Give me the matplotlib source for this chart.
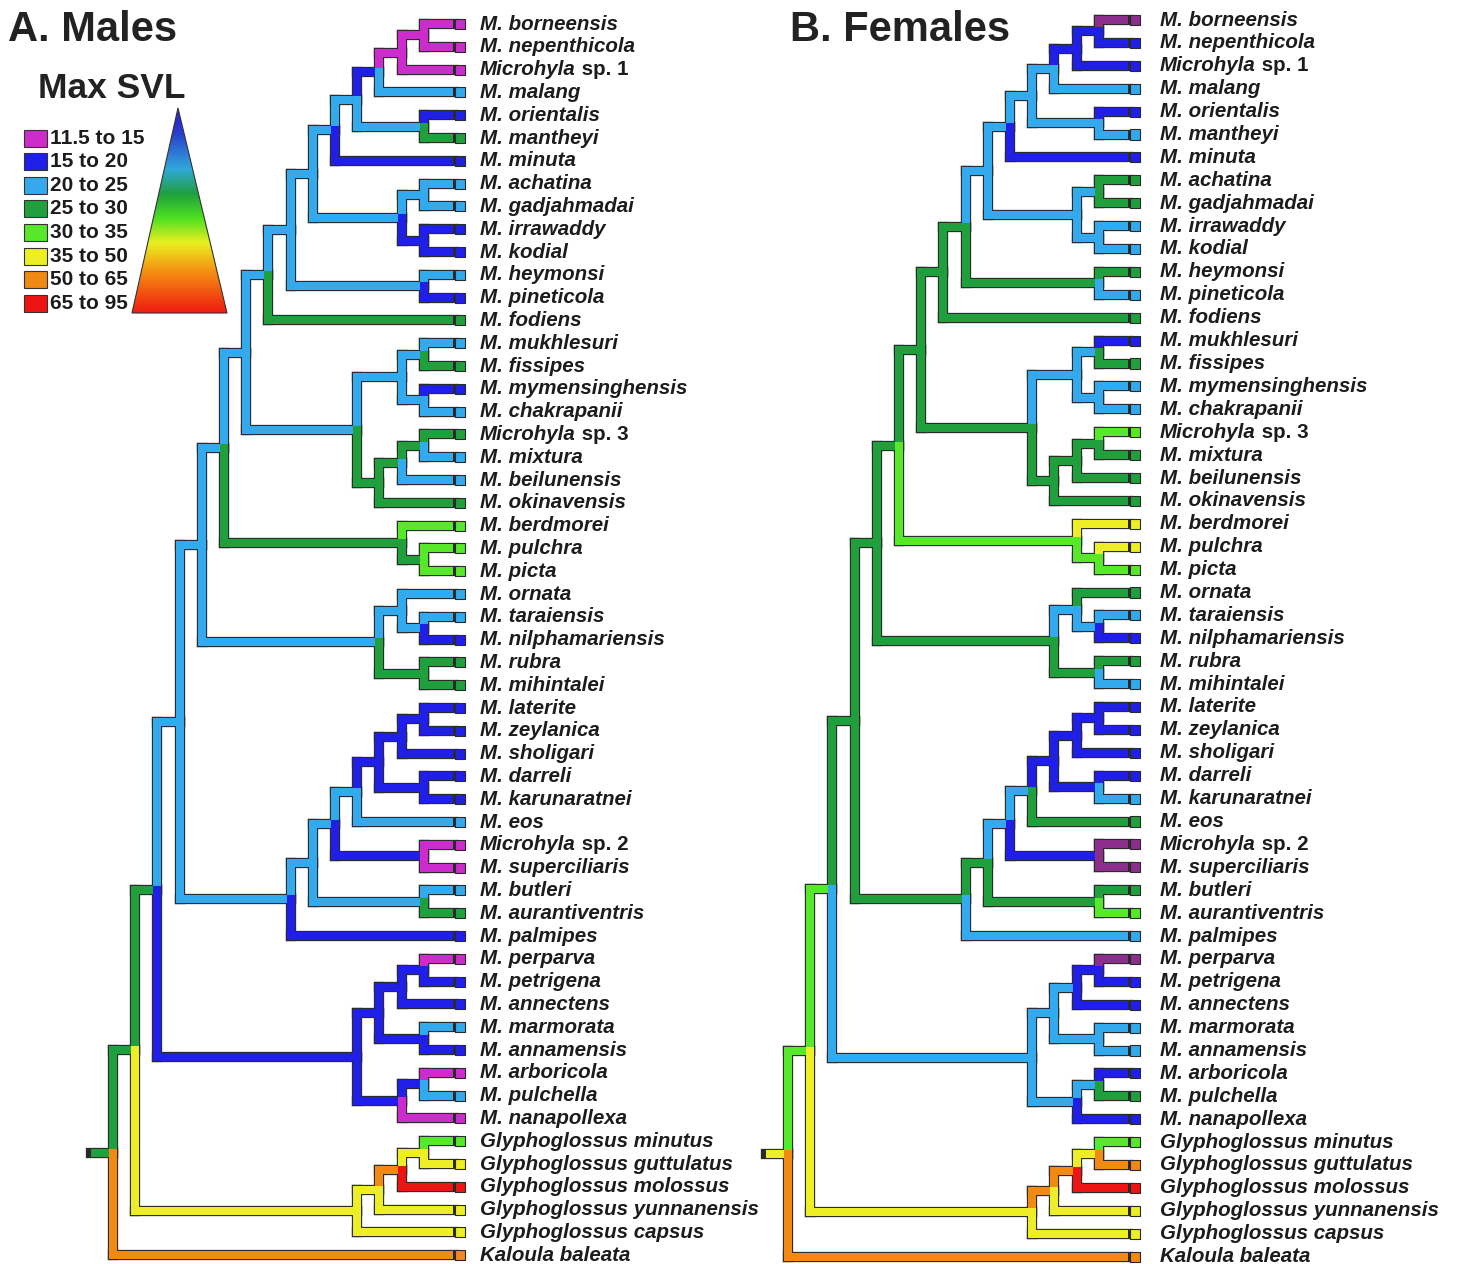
import matplotlib
matplotlib.use("Agg")
import matplotlib.pyplot as plt
import numpy as np
from matplotlib.patches import Polygon, Rectangle
from matplotlib.colors import LinearSegmentedColormap

plt.rcParams['font.family'] = ['Liberation Sans', 'DejaVu Sans']

# Max SVL bins and colours
bins = ["11.5 to 15", "15 to 20", "20 to 25", "25 to 30",
        "30 to 35", "35 to 50", "50 to 65", "65 to 95"]
male_cols = ["#cc2ccc", "#1f1fe8", "#33aaee", "#20a03c",
             "#58e82a", "#eeee26", "#f08a12", "#ee1414"]
female_cols = ["#8c2f8c", "#1f1fe8", "#33aaee", "#20a03c",
               "#58e82a", "#eeee26", "#f08a12", "#ee1414"]

tips = ["M. borneensis", "M. nepenthicola", "Microhyla sp. 1", "M. malang",
        "M. orientalis", "M. mantheyi", "M. minuta", "M. achatina",
        "M. gadjahmadai", "M. irrawaddy", "M. kodial", "M. heymonsi",
        "M. pineticola", "M. fodiens", "M. mukhlesuri", "M. fissipes",
        "M. mymensinghensis", "M. chakrapanii", "Microhyla sp. 3", "M. mixtura",
        "M. beilunensis", "M. okinavensis", "M. berdmorei", "M. pulchra",
        "M. picta", "M. ornata", "M. taraiensis", "M. nilphamariensis",
        "M. rubra", "M. mihintalei", "M. laterite", "M. zeylanica",
        "M. sholigari", "M. darreli", "M. karunaratnei", "M. eos",
        "Microhyla sp. 2", "M. superciliaris", "M. butleri", "M. aurantiventris",
        "M. palmipes", "M. perparva", "M. petrigena", "M. annectens",
        "M. marmorata", "M. annamensis", "M. arboricola", "M. pulchella",
        "M. nanapollexa", "Glyphoglossus minutus", "Glyphoglossus guttulatus",
        "Glyphoglossus molossus", "Glyphoglossus yunnanensis",
        "Glyphoglossus capsus", "Kaloula baleata"]


def N(rank, a, b):
    return (rank, a, b)


# topology, internal nodes carry their depth rank; tips are indices
tree = N(0,
         N(1,
           N(2,
             N(3,
               N(4,
                 N(5,
                   N(6,
                     N(7,
                       N(8,
                         N(9,
                           N(10,
                             N(11, N(12, N(13, N(14, 0, 1), 2), 3), N(14, 4, 5)),
                             6),
                           N(13, N(14, 7, 8), N(14, 9, 10))),
                         N(14, 11, 12)),
                       13),
                     N(11,
                       N(13, N(14, 14, 15), N(14, 16, 17)),
                       N(12, N(13, N(14, 18, 19), 20), 21))),
                   N(13, 22, N(14, 23, 24))),
                 N(12, N(13, 25, N(14, 26, 27)), N(14, 28, 29))),
               N(8,
                 N(9,
                   N(10,
                     N(11, N(12, N(13, N(14, 30, 31), 32), N(14, 33, 34)), 35),
                     N(14, 36, 37)),
                   N(14, 38, 39)),
                 40)),
             N(11,
               N(12, N(13, N(14, 41, 42), 43), N(14, 44, 45)),
               N(13, N(14, 46, 47), 48))),
           N(11, N(12, N(13, N(14, 49, 50), 51), 52), 53)),
         54)
TIP_DEPTH = 15.3

# state index per tip (0 = 11.5-15 ... 7 = 65-95)
male_tip_states = [0, 0, 0, 2, 1, 3, 1, 2, 2, 1, 1, 2, 1, 3, 2, 3, 1, 2, 3, 2,
                   2, 3, 4, 4, 4, 2, 2, 1, 3, 3, 1, 1, 1, 1, 1, 2, 0, 0, 2, 3,
                   1, 0, 1, 1, 2, 1, 0, 2, 0, 4, 5, 7, 5, 5, 6]
female_tip_states = [0, 1, 1, 2, 1, 2, 1, 3, 3, 2, 2, 3, 2, 3, 1, 3, 2, 2, 4, 3,
                     3, 3, 5, 5, 4, 3, 2, 1, 3, 2, 1, 1, 1, 1, 2, 3, 0, 0, 3, 4,
                     2, 0, 1, 1, 2, 2, 1, 3, 1, 4, 6, 7, 5, 5, 6]

# state of the branch leading to each clade (keyed by tip span)
male_node_states = {
    (0, 54): 3, (0, 53): 3, (0, 48): 3, (49, 53): 5, (49, 52): 5, (49, 51): 6,
    (49, 50): 5, (0, 40): 2, (41, 48): 1, (41, 45): 1, (41, 43): 1, (41, 42): 1,
    (44, 45): 1, (46, 48): 1, (46, 47): 1, (0, 29): 2, (30, 40): 2, (30, 39): 2,
    (30, 37): 2, (30, 35): 2, (30, 34): 1, (30, 32): 1, (30, 31): 1, (33, 34): 1,
    (36, 37): 1, (38, 39): 2, (0, 24): 2, (25, 29): 2, (25, 27): 2, (26, 27): 2,
    (28, 29): 3, (0, 21): 2, (22, 24): 3, (23, 24): 3, (0, 13): 2, (14, 21): 2,
    (14, 17): 2, (14, 15): 2, (16, 17): 2, (18, 21): 3, (18, 20): 3, (18, 19): 3,
    (0, 12): 2, (0, 10): 2, (11, 12): 2, (0, 6): 2, (7, 10): 2, (7, 8): 2,
    (9, 10): 1, (0, 5): 2, (0, 3): 1, (4, 5): 2, (0, 2): 0, (0, 1): 0}
female_node_states = {
    (0, 54): 5, (0, 53): 4, (0, 48): 4, (49, 53): 5, (49, 52): 6, (49, 51): 6,
    (49, 50): 5, (0, 40): 3, (41, 48): 2, (41, 45): 2, (41, 43): 2, (41, 42): 1,
    (44, 45): 2, (46, 48): 2, (46, 47): 2, (0, 29): 3, (30, 40): 3, (30, 39): 3,
    (30, 37): 2, (30, 35): 2, (30, 34): 1, (30, 32): 1, (30, 31): 1, (33, 34): 1,
    (36, 37): 1, (38, 39): 3, (0, 24): 3, (25, 29): 3, (25, 27): 2, (26, 27): 2,
    (28, 29): 3, (0, 21): 3, (22, 24): 4, (23, 24): 4, (0, 13): 3, (14, 21): 3,
    (14, 17): 2, (14, 15): 2, (16, 17): 2, (18, 21): 3, (18, 20): 3, (18, 19): 3,
    (0, 12): 3, (0, 10): 2, (11, 12): 3, (0, 6): 2, (7, 10): 2, (7, 8): 2,
    (9, 10): 2, (0, 5): 2, (0, 3): 2, (4, 5): 2, (0, 2): 1, (0, 1): 1}

OUT_LW = 7.4
COL_LW = 5.8
TEXT = "#1c1c1c"
FS = 14.8


def draw_tree(ax, tip_states, node_states, cols, lab_off):
    hsegs, vsegs = [], []

    def walk(node):
        if isinstance(node, int):
            return node, (node, node)
        d, a, b = node
        ya, sa = walk(a)
        yb, sb = walk(b)
        y = (ya + yb) / 2
        for yc, sc, c in ((ya, sa, a), (yb, sb, b)):
            if isinstance(c, int):
                st, dc = tip_states[c], TIP_DEPTH
            else:
                st, dc = node_states[sc], c[0]
            hsegs.append(((d, dc), (yc, yc), cols[st]))
            vsegs.append(((d, d), (y, yc), cols[st]))
        return y, (sa[0], sb[1])

    yroot, span = walk(tree)
    hsegs.append(((-1, tree[0]), (yroot, yroot), cols[node_states[span]]))

    for xs, ys, c in hsegs + vsegs:
        ax.plot(xs, ys, color="#2a2a2a", lw=OUT_LW, solid_capstyle="projecting", zorder=1)
    for xs, ys, c in hsegs:
        ax.plot(xs, ys, color=c, lw=COL_LW, solid_capstyle="butt", zorder=2)
    for xs, ys, c in vsegs:
        ax.plot(xs, ys, color=c, lw=COL_LW, solid_capstyle="projecting", zorder=3)

    idx = np.arange(len(tips))
    ax.scatter(np.full(len(tips), TIP_DEPTH + 0.33), idx, marker="s", s=52,
               c=[cols[s] for s in tip_states], edgecolors="#2a2a2a",
               linewidths=0.8, zorder=4)

    for i, name in enumerate(tips):
        if " sp. " in name:
            genus, rest = name.split(" sp. ")
            t = ax.text(TIP_DEPTH + lab_off, i, genus, fontsize=FS, fontweight="bold",
                        fontstyle="italic", va="center", ha="left", color=TEXT)
            ax.annotate(" sp. " + rest, xy=(1, 0), xycoords=t, va="bottom", ha="left",
                        fontsize=FS, fontweight="bold", color=TEXT)
        else:
            ax.text(TIP_DEPTH + lab_off, i, name, fontsize=FS, fontweight="bold",
                    fontstyle="italic", va="center", ha="left", color=TEXT)


W, H = 1460, 1264
fig = plt.figure(figsize=(W / 100, H / 100), dpi=100)
fig.patch.set_facecolor("white")

step_x = 22.2
# males panel: pixels 0-730
axm = fig.add_axes([0, 0, 730 / W, 1])
axm.set_xlim(-113 / step_x, (730 - 113) / step_x)
axm.set_ylim((H - 24) / 22.8, -24 / 22.8)
axm.axis("off")
draw_tree(axm, male_tip_states, male_node_states, male_cols, 1.23)
axm.text(8 / 730, 1 - 30 / H, "A. Males", transform=axm.transAxes, fontsize=30,
         fontweight="bold", va="center", ha="left", color="#222222")

# females panel: pixels 730-1460
axf = fig.add_axes([730 / W, 0, 730 / W, 1])
axf.set_xlim(-58 / step_x, (730 - 58) / step_x)
axf.set_ylim((H - 20) / 22.9, -20 / 22.9)
axf.axis("off")
draw_tree(axf, female_tip_states, female_node_states, female_cols, 1.45)
axf.text(60 / 730, 1 - 30 / H, "B. Females", transform=axf.transAxes, fontsize=30,
         fontweight="bold", va="center", ha="left", color="#222222")

# legend
lax = fig.add_axes([0, 1 - 330 / H, 240 / W, 330 / H])
lax.set_xlim(0, 240)
lax.set_ylim(330, 0)
lax.axis("off")
lax.text(112, 88, "Max SVL", fontsize=25.5, fontweight="bold", ha="center",
         va="center", color="#222222")
for k, (lab, c) in enumerate(zip(bins, male_cols)):
    yc = 138 + 23.6 * k
    lax.add_patch(Rectangle((24, yc - 8.5), 23, 17, fc=c, ec="#333333", lw=0.8))
    lax.text(50, yc, lab, fontsize=15, fontweight="bold", va="center", ha="left",
             color=TEXT)

grad_cmap = LinearSegmentedColormap.from_list(
    "svl", [(0.0, "#2a22c8"), (0.12, "#2a3cd0"), (0.3, "#30a8d8"),
            (0.42, "#1fa040"), (0.54, "#4ee020"), (0.66, "#eaf020"),
            (0.8, "#f59012"), (1.0, "#f01a10")])
grad = grad_cmap(np.linspace(0, 1, 256))[:, None, :]
tri = Polygon([(178, 108), (132, 313), (227, 313)], closed=True, fc="none",
              ec="#333333", lw=0.8, zorder=3)
lax.add_patch(tri)
im = lax.imshow(grad, extent=(132, 227, 313, 108), aspect="auto", zorder=2)
im.set_clip_path(tri)

fig.savefig("out.png", dpi=100, facecolor="white")
